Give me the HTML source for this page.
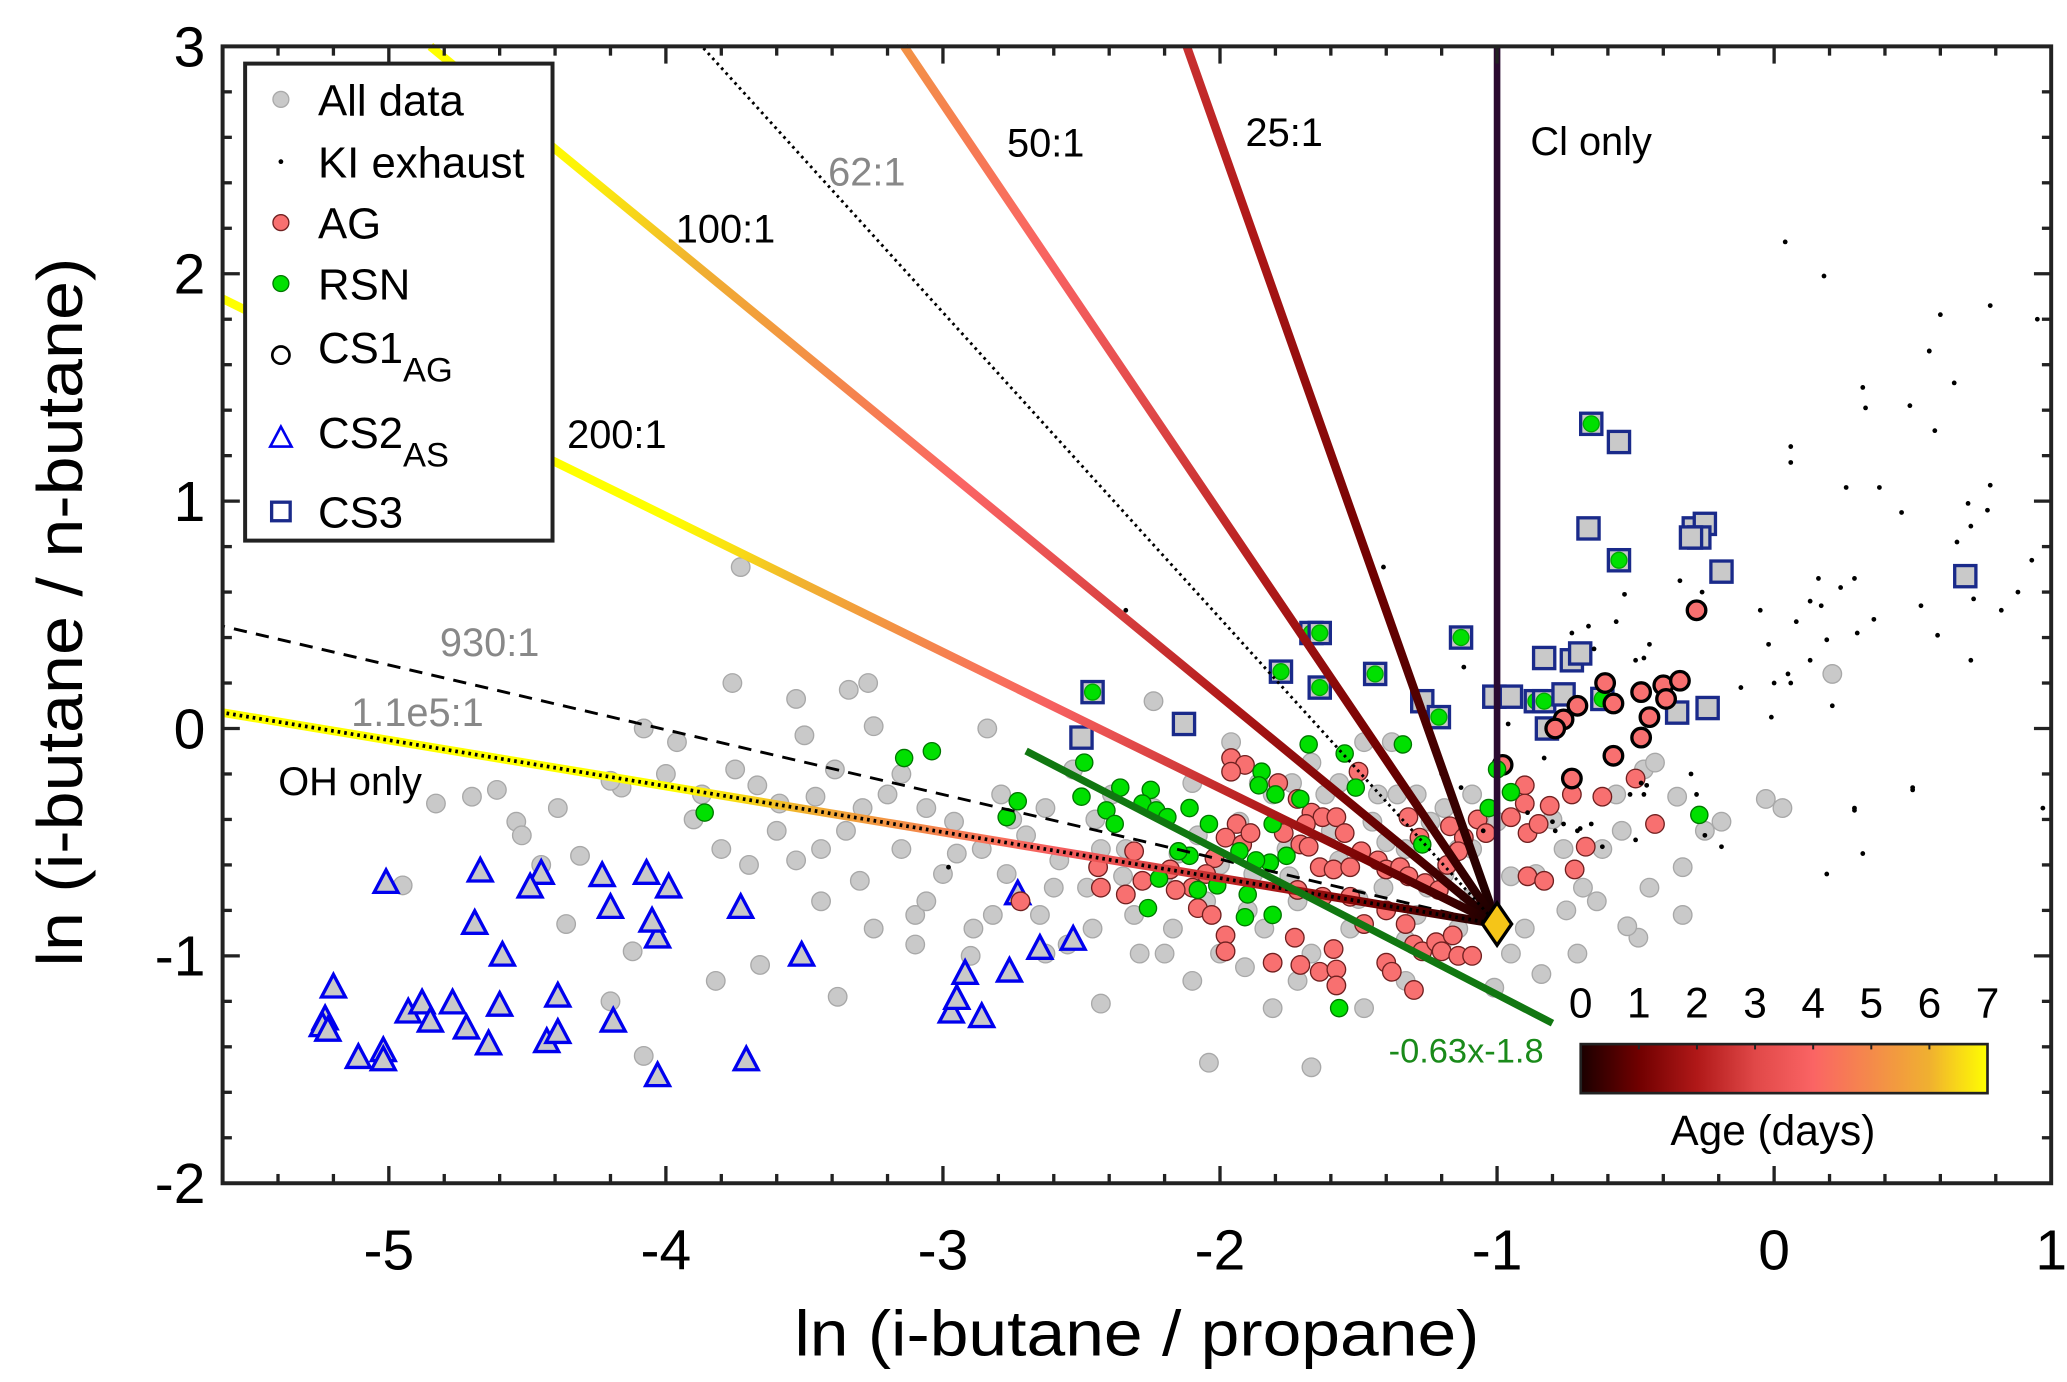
<!DOCTYPE html>
<html><head><meta charset="utf-8"><style>
html,body{margin:0;padding:0;background:#fff;}
svg{display:block;font-family:"Liberation Sans",Arial,sans-serif;}
</style></head><body>
<svg id="chart" width="2067" height="1382" viewBox="0 0 1560 1043" preserveAspectRatio="none" xmlns="http://www.w3.org/2000/svg">
<defs id="defs"></defs>
<g id="points"></g>
<g id="lines"></g>
<g id="axes"></g>
<g id="labels">
<text x="625" y="140" font-size="30" fill="#888">62:1</text>
<text x="760" y="118" font-size="30">50:1</text>
<text x="940" y="110" font-size="30">25:1</text>
<text x="1155" y="117" font-size="30">Cl only</text>
<text x="510" y="183" font-size="30">100:1</text>
<text x="428" y="338" font-size="30">200:1</text>
<text x="332" y="495" font-size="30" fill="#888">930:1</text>
<text x="265" y="548" font-size="30" fill="#888">1.1e5:1</text>
<text x="210" y="600" font-size="30">OH only</text>
<text x="1048" y="802" font-size="26" fill="#1a8a1a">-0.63x-1.8</text>
</g>
<g id="colorbar"></g>
<g id="legend"></g>
<text x="858" y="1023" font-size="48" text-anchor="middle" textLength="517" lengthAdjust="spacingAndGlyphs">ln (i-butane / propane)</text>
<text transform="translate(62,462) rotate(-90)" font-size="48" text-anchor="middle" textLength="535" lengthAdjust="spacingAndGlyphs">ln (i-butane / n-butane)</text>
</svg>
<script>
const xTicks=[-5,-4,-3,-2,-1,0,1];
const yTicks=[-2,-1,0,1,2,3];
const ageTicks=[0,1,2,3,4,5,6,7];
const origin=[-1,-0.86];
const lineNames=['ratio-25-1','ratio-50-1','ratio-100-1','ratio-200-1','oh-only'];
const lineEndX=[-2.12,-3.14,-4.85,-5.6,-5.6];
const lineEndY=[3,3,3,1.89,0.07];
const lineEndAge=[2.5,5.2,8,11,11];
const fitSlope=-0.63, fitIntercept=-1.8, fitRange=[-2.7,-0.8];
const allData=[[-3.73,0.71],[0.21,0.24],[-0.03,-0.31],[0.03,-0.35],[-0.33,-0.61],[-0.33,-0.82],[-0.49,-0.92],[-0.53,-0.87],[-0.19,-0.41],[-1.67,-1.49],[-2.04,-1.47],[-2.43,-1.21],[-0.84,-1.08],[-1.01,-1.14],
[-4.83,-0.33],[-4.95,-0.69],[-4.61,-0.27],[-4.54,-0.41],[-4.52,-0.47],[-4.36,-0.86],[-4.31,-0.56],[-4.16,-0.26],[-4.08,0.0],[-4.12,-0.98],[-4.08,-1.44],[-3.82,-1.11],[-3.76,0.2],[-3.75,-0.18],[-3.67,-0.25],[-3.66,-1.04],[-3.59,-0.33],[-3.53,0.13],[-3.5,-0.03],[-3.46,-0.3],[-3.44,-0.53],[-3.39,-0.18],[-3.38,-1.18],[-3.34,0.17],[-3.27,0.2],[-3.25,0.01],[-3.29,-0.35],[-3.3,-0.67],[-3.2,-0.29],[-3.15,-0.53],[-3.1,-0.82],[-3.06,-0.35],[-3.0,-0.64],[-2.96,-0.41],[-2.89,-0.88],[-2.84,0.0],[-2.86,-0.53],[-2.79,-0.29],[-2.77,-0.64],[-2.7,-0.47],[-2.63,-0.35],[-2.65,-0.82],[-2.58,-0.58],[-2.53,-0.18],[-2.48,-0.7],[-2.46,-0.88],[-2.39,-0.29],[-2.34,-0.53],[-2.31,-0.82],[-2.24,0.12],[-2.24,-0.35],[-2.2,-0.64],[-2.17,-0.88],[-2.1,-0.24],[-2.08,-0.47],[-2.05,-0.76],[-2.0,-0.99],[-1.96,-0.06],[-1.93,-0.41],[-1.88,-0.64],[-1.84,-0.88],[-1.81,-0.29],[-1.76,-0.53],[-1.72,-0.76],[-1.67,-0.99],[-1.62,-0.29],[-1.57,-0.58],[-1.53,-0.88],[-1.48,-0.06],[-1.45,-0.41],[-1.41,-0.7],[-1.36,-0.29],[-1.33,-0.53],[-1.29,-0.82],[-1.24,-0.41],[-1.19,-0.64],[-1.14,-0.88],[-1.09,-0.53],[-1.05,-0.82],[-0.95,-0.99],[-0.9,-0.88],[-0.86,-0.64],[-0.76,-0.53],[-0.69,-0.7],[-0.62,-0.53],[-0.57,-0.29],[-0.47,-0.18],[-0.43,-0.15],[-0.64,-0.76],[-0.71,-0.99],
[-4.39,-0.35],[-4.2,-0.23],[-3.96,-0.06],[-3.87,-0.29],[-3.8,-0.53],[-3.53,-0.58],[-3.44,-0.76],[-3.25,-0.88],[-3.06,-0.76],[-2.82,-0.82],[-2.63,-0.99],[-2.43,-0.53],[-2.29,-0.99],[-2.1,-1.11],[-1.91,-1.05],[-1.86,-0.24],[-1.74,-0.24],[-1.67,-0.15],[-1.57,-0.24],[-1.43,-0.29],[-1.38,-0.06],[-1.29,-0.29],[-1.19,-0.35],[-1.09,-0.29],[-1.0,-0.41],[-1.14,-0.53],[-1.33,-0.93],[-1.72,-1.11],[-1.81,-1.23],[-1.48,-1.23],[-1.33,-1.11],[-2.2,-0.99],
[-3.6,-0.45],[-3.9,-0.4],[-4.0,-0.2],[-3.7,-0.6],[-3.35,-0.45],[-3.15,-0.2],[-2.95,-0.55],[-2.75,-0.4],[-2.6,-0.7],[-2.45,-0.4],[-2.35,-0.65],[-2.15,-0.55],[-2.0,-0.6],[-1.9,-0.8],[-1.75,-0.65],[-1.6,-0.45],[-1.5,-0.75],[-1.4,-0.5],[-1.25,-0.7],[-1.1,-0.75],[-1.2,-0.95],[-0.95,-0.65],[-0.8,-0.4],[-0.75,-0.8],[-0.55,-0.45],[-0.35,-0.3],[-0.25,-0.45],[-0.45,-0.7],[-2.55,-0.95],[-2.9,-1.0],[-3.1,-0.95],[-4.2,-1.2],[-4.7,-0.3],[-4.45,-0.6]];
const kiExhaust=[[0.32,1.5],[0.33,1.41],[0.49,1.42],[0.65,1.52],[0.58,1.31],[0.56,1.66],[0.06,1.24],[0.06,1.17],[0.26,1.06],[0.38,1.06],[0.46,0.95],[0.78,1.07],[0.7,0.99],[0.77,0.96],[0.71,0.89],[0.66,0.82],[0.93,0.74],[0.16,0.66],[0.29,0.66],[0.24,0.62],[0.13,0.56],[0.17,0.54],[-0.05,0.52],[0.08,0.47],[0.36,0.48],[0.19,0.39],[0.3,0.42],[0.53,0.54],[0.72,0.57],[0.82,0.52],[0.88,0.6],[0.59,0.41],[-0.02,0.37],[0.13,0.3],[0.71,0.3],[0.05,0.24],[0.0,0.2],[0.06,0.2],[-0.12,0.18],[0.21,0.1],[-0.01,0.05],[0.5,-0.26],[0.29,-0.35],[0.97,-0.35],[-0.34,0.65],[-0.26,0.6],[-0.54,0.59],[-0.57,0.47],[-0.67,0.45],[-0.73,0.42],[-0.65,0.35],[-0.45,0.37],[-0.5,0.3],[-0.47,0.31],[-1.12,0.27],[-0.96,0.02],[-0.83,-0.13],[-1.13,-0.26],[-0.48,-0.24],[-0.46,-0.25],[-0.52,-0.29],[-0.47,-0.29],[-0.28,-0.29],[-0.3,-0.2],[-0.25,-0.47],[-0.19,-0.52],[-0.5,-0.49],[-0.62,-0.52],[-0.8,-0.41],[-0.76,-0.42],[-0.79,-0.45],[-0.71,-0.45],[-0.7,-0.44],[-0.66,-0.42],[-0.89,-0.37],[0.04,2.14],[0.18,1.99],[0.6,1.82],[0.78,1.86],[0.95,1.8],[0.56,1.66],[-1.41,0.71],[-2.34,0.52],[0.29,-0.36],[0.5,-0.27],[0.19,-0.64],[0.32,-0.55],[-2.98,-0.61],[-1.2,-0.2],[-1.05,-0.45]];
const agPoints=[[-1.96,-0.13],[-1.91,-0.16],[-1.96,-0.19],[-1.79,-0.24],[-1.72,-0.31],[-1.67,-0.37],[-1.63,-0.39],[-1.58,-0.39],[-1.55,-0.46],[-1.69,-0.42],[-1.77,-0.46],[-1.71,-0.51],[-1.68,-0.52],[-1.64,-0.61],[-1.59,-0.62],[-1.53,-0.61],[-1.49,-0.54],[-1.43,-0.58],[-1.4,-0.62],[-1.35,-0.61],[-1.32,-0.65],[-1.26,-0.68],[-1.21,-0.71],[-1.18,-0.6],[-1.17,-0.43],[-1.12,-0.48],[-1.07,-0.4],[-1.04,-0.46],[-1.14,-0.54],[-1.32,-0.39],[-1.28,-0.48],[-1.5,-0.19],[-1.94,-0.42],[-1.98,-0.48],[-1.92,-0.51],[-1.89,-0.46],[-2.02,-0.57],[-2.05,-0.64],[-2.1,-0.7],[-2.16,-0.71],[-2.18,-0.62],[-2.28,-0.67],[-2.34,-0.73],[-2.31,-0.54],[-2.44,-0.61],[-2.43,-0.7],[-2.72,-0.76],[-2.08,-0.79],[-2.03,-0.82],[-1.98,-0.91],[-1.98,-0.98],[-1.81,-1.03],[-1.73,-0.92],[-1.71,-1.04],[-1.64,-1.07],[-1.59,-0.97],[-1.58,-1.06],[-1.58,-1.13],[-1.4,-1.03],[-1.38,-1.07],[-1.3,-1.15],[-1.48,-0.86],[-1.33,-0.86],[-1.3,-0.95],[-1.27,-0.98],[-1.22,-0.94],[-1.2,-0.98],[-1.16,-0.91],[-1.14,-1.0],[-1.09,-1.0],[-1.4,-0.8],[-1.53,-0.74],[-1.63,-0.74],[-1.72,-0.71],[-0.9,-0.25],[-0.9,-0.33],[-0.95,-0.39],[-0.89,-0.46],[-0.85,-0.42],[-0.81,-0.34],[-0.89,-0.65],[-0.73,-0.29],[-0.68,-0.52],[-0.62,-0.3],[-0.5,-0.22],[-0.43,-0.42],[-0.72,-0.62],[-0.83,-0.67]];
const rsnPoints=[[-3.14,-0.13],[-3.04,-0.1],[-2.49,-0.15],[-2.36,-0.26],[-2.25,-0.27],[-2.28,-0.33],[-2.23,-0.36],[-2.19,-0.39],[-2.41,-0.36],[-2.38,-0.42],[-2.5,-0.3],[-2.73,-0.32],[-2.77,-0.39],[-2.11,-0.35],[-2.04,-0.42],[-1.85,-0.19],[-1.86,-0.25],[-1.8,-0.29],[-1.71,-0.31],[-1.68,-0.07],[-1.55,-0.11],[-1.51,-0.26],[-1.34,-0.07],[-1.27,-0.51],[-1.03,-0.35],[-1.81,-0.42],[-1.76,-0.56],[-1.82,-0.59],[-1.93,-0.54],[-1.87,-0.58],[-1.9,-0.73],[-1.81,-0.82],[-1.91,-0.83],[-2.08,-0.71],[-2.22,-0.66],[-2.01,-0.69],[-2.26,-0.79],[-2.11,-0.56],[-2.15,-0.54],[-1.57,-1.23],[-3.86,-0.37],[-0.27,-0.38],[-1.0,-0.18],[-0.95,-0.28]];
const cs1Points=[[-0.61,0.2],[-0.58,0.11],[-0.48,0.16],[-0.4,0.19],[-0.34,0.21],[-0.45,0.05],[-0.48,-0.04],[-0.58,-0.12],[-0.73,-0.22],[-0.98,-0.16],[-0.71,0.1],[-0.76,0.04],[-0.79,0.0],[-0.28,0.52],[-0.39,0.13]];
const cs2Points=[[-5.01,-0.68],[-5.2,-1.14],[-5.23,-1.28],[-5.24,-1.31],[-5.22,-1.33],[-5.11,-1.45],[-5.02,-1.42],[-5.02,-1.46],[-4.93,-1.25],[-4.88,-1.21],[-4.85,-1.29],[-4.77,-1.21],[-4.72,-1.32],[-4.69,-0.86],[-4.67,-0.63],[-4.59,-1.0],[-4.64,-1.39],[-4.6,-1.22],[-4.43,-1.38],[-4.39,-1.34],[-4.39,-1.18],[-4.45,-0.64],[-4.49,-0.7],[-4.23,-0.65],[-4.2,-0.79],[-4.19,-1.29],[-4.03,-0.92],[-4.03,-1.53],[-4.05,-0.85],[-4.07,-0.64],[-3.99,-0.7],[-3.73,-0.79],[-3.71,-1.46],[-3.51,-1.0],[-2.97,-1.25],[-2.95,-1.19],[-2.92,-1.08],[-2.86,-1.27],[-2.76,-1.07],[-2.65,-0.97],[-2.53,-0.93],[-2.73,-0.73]];
const cs3Points=[[-0.66,1.34],[-0.56,1.26],[-0.67,0.88],[-0.56,0.74],[-0.29,0.88],[-0.25,0.9],[-0.27,0.84],[-0.3,0.84],[-0.19,0.69],[0.69,0.67],[-1.13,0.4],[-1.44,0.24],[-1.78,0.25],[-1.67,0.42],[-1.64,0.42],[-1.64,0.18],[-2.46,0.16],[-2.13,0.02],[-2.5,-0.04],[-1.27,0.12],[-1.21,0.05],[-1.01,0.14],[-0.95,0.14],[-0.83,0.31],[-0.73,0.3],[-0.7,0.33],[-0.86,0.12],[-0.83,0.12],[-0.76,0.15],[-0.82,0.0],[-0.62,0.13],[-0.35,0.07],[-0.24,0.09]];
const cs3Rsn=[1,0,0,1,0,0,0,0,0,0,1,1,1,1,1,1,1,0,0,0,1,0,0,0,0,0,1,1,0,0,1,0,0];

const NS='http://www.w3.org/2000/svg';
const X=v=>168+(v+5.6)*209.1;
const Y=v=>35+(3-v)*171.6;
function mk(tag,attrs,parent){const e=document.createElementNS(NS,tag);for(const k in attrs)e.setAttribute(k,attrs[k]);parent.appendChild(e);return e;}
const cmapStops=[[0,'#1a0000'],[1,'#700000'],[2,'#b01818'],[3,'#e04848'],[4,'#fa6464'],[5,'#f48a4a'],[6,'#f0b030'],[7,'#ffff00']];
function cmap(a){a=Math.max(0,Math.min(7,a));const i=Math.min(6,Math.floor(a));const t=a-i;const c1=cmapStops[i][1],c2=cmapStops[i+1][1];
const p=s=>[1,3,5].map(j=>parseInt(s.substr(j,2),16));const A=p(c1),B=p(c2);return 'rgb('+A.map((v,k)=>Math.round(v+(B[k]-v)*t)).join(',')+')';}
const defs=document.getElementById('defs');
const P=document.getElementById('points');
const L=document.getElementById('lines');
const AX=document.getElementById('axes');

allData.forEach(d=>{const c=mk('circle',{cx:X(d[0]),cy:Y(d[1]),r:7,fill:'#c9c9c9',stroke:'#a8a8a8','stroke-width':1},P);

});
cs2Points.forEach(d=>{const x=X(d[0]),y=Y(d[1]);const e=mk('polygon',{points:`${x},${y-10} ${x-9},${y+7} ${x+9},${y+7}`,fill:'#c9c9c9',stroke:'#0000ee','stroke-width':2.5},P);

});
cs3Points.forEach((d,i)=>{const x=X(d[0]),y=Y(d[1]);const e=mk('rect',{x:x-8,y:y-8,width:16,height:16,fill:'#c9c9c9',stroke:'#1a2a8a','stroke-width':2.5},P);


if(cs3Rsn[i]){mk('circle',{cx:x,cy:y,r:6,fill:'#00e000',stroke:'#0a0','stroke-width':1},P);}});
agPoints.forEach(d=>{const c=mk('circle',{cx:X(d[0]),cy:Y(d[1]),r:7,fill:'#f87070',stroke:'#702020','stroke-width':1},P);

});
cs1Points.forEach(d=>{const c=mk('circle',{cx:X(d[0]),cy:Y(d[1]),r:7,fill:'#f87070',stroke:'#000','stroke-width':2.5},P);

});
rsnPoints.forEach(d=>{const c=mk('circle',{cx:X(d[0]),cy:Y(d[1]),r:6.5,fill:'#00e000',stroke:'#007700','stroke-width':1},P);

});
kiExhaust.forEach(d=>{const c=mk('circle',{cx:X(d[0]),cy:Y(d[1]),r:1.8,fill:'#000'},P);

});

const ox=X(origin[0]),oy=Y(origin[1]);
const d930=mk('line',{x1:ox,y1:oy,x2:X(-5.6),y2:Y(0.45),stroke:'#000','stroke-width':2.2,'stroke-dasharray':'10 7'},L);


lineNames.forEach((n,i)=>{const ex=X(lineEndX[i]),ey=Y(lineEndY[i]);const g=mk('linearGradient',{id:'g'+i,gradientUnits:'userSpaceOnUse',x1:ox,y1:oy,x2:ex,y2:ey},defs);
for(let k=0;k<=20;k++){const t=k/20;mk('stop',{offset:t,'stop-color':cmap(t*lineEndAge[i])},g);}
const e=mk('line',{x1:ox,y1:oy,x2:ex,y2:ey,stroke:'url(#g'+i+')','stroke-width':6.5},L);

});
const d62=mk('line',{x1:ox,y1:oy,x2:X(-3.87),y2:Y(3),stroke:'#000','stroke-width':2.2,'stroke-dasharray':'2 3'},L);


const d11=mk('line',{x1:ox,y1:oy,x2:X(-5.6),y2:Y(0.07),stroke:'#000','stroke-width':2.8,'stroke-dasharray':'2 3'},L);


const cl=mk('line',{x1:ox,y1:oy,x2:ox,y2:Y(3),stroke:'#2a0a30','stroke-width':5},L);


const fit=mk('line',{x1:X(fitRange[0]),y1:Y(fitSlope*fitRange[0]+fitIntercept),x2:X(fitRange[1]),y2:Y(fitSlope*fitRange[1]+fitIntercept),stroke:'#117711','stroke-width':5.5},L);


const dia=mk('polygon',{points:`${ox},${oy-16} ${ox+11},${oy} ${ox},${oy+16} ${ox-11},${oy}`,fill:'#f5c518',stroke:'#000','stroke-width':2.5},L);



const fr=mk('rect',{x:X(-5.6),y:Y(3),width:X(1)-X(-5.6),height:Y(-2)-Y(3),fill:'none',stroke:'#222','stroke-width':3},AX);


for(let v=-5.6;v<=1.001;v+=0.2){const r=Math.round(v*10)/10;const major=Math.abs(r-Math.round(r))<1e-6;const len=major?13:7;
mk('line',{x1:X(r),y1:Y(-2),x2:X(r),y2:Y(-2)-len,stroke:'#222','stroke-width':2.5},AX);
mk('line',{x1:X(r),y1:Y(3),x2:X(r),y2:Y(3)+len,stroke:'#222','stroke-width':2.5},AX);}
for(let v=-2;v<=3.001;v+=0.2){const r=Math.round(v*10)/10;const major=Math.abs(r-Math.round(r))<1e-6;const len=major?13:7;
mk('line',{x1:X(-5.6),y1:Y(r),x2:X(-5.6)+len,y2:Y(r),stroke:'#222','stroke-width':2.5},AX);
mk('line',{x1:X(1),y1:Y(r),x2:X(1)-len,y2:Y(r),stroke:'#222','stroke-width':2.5},AX);}
xTicks.forEach(v=>{const t=mk('text',{x:X(v),y:958,'font-size':43,'text-anchor':'middle'},AX);t.textContent=v;

});
yTicks.forEach(v=>{const t=mk('text',{x:155,y:Y(v)+15,'font-size':43,'text-anchor':'end'},AX);t.textContent=v;

});

const CB=document.getElementById('colorbar');
const cg=mk('linearGradient',{id:'cbg',x1:0,y1:0,x2:1,y2:0},defs);
for(let k=0;k<=28;k++){mk('stop',{offset:k/28,'stop-color':cmap(k/4)},cg);}
const cbx0=1193,cbx1=1500;
const cbr=mk('rect',{x:cbx0,y:788,width:cbx1-cbx0,height:37,fill:'url(#cbg)',stroke:'#222','stroke-width':2},CB);


ageTicks.forEach(a=>{const x=cbx0+(cbx1-cbx0)*a/7;mk('line',{x1:x,y1:788,x2:x,y2:792,stroke:'#222','stroke-width':1.5},CB);
const t=mk('text',{x:x,y:768,'font-size':32,'text-anchor':'middle'},CB);t.textContent=a;

});
const ct=mk('text',{x:1338,y:864,'font-size':32,'text-anchor':'middle'},CB);ct.textContent='Age (days)';



const LG=document.getElementById('legend');
const lb=mk('rect',{x:185,y:48,width:232,height:360,fill:'#fff',stroke:'#222','stroke-width':3},LG);


const rows=[['All data',75],['KI exhaust',122],['AG',168],['RSN',214],['CS1',262,'AG'],['CS2',326,'AS'],['CS3',386]];
rows.forEach((r,i)=>{const y=r[1];const g=mk('g',{},LG);


if(i==0)mk('circle',{cx:212,cy:y,r:6,fill:'#c9c9c9',stroke:'#aaa'},g);
if(i==1)mk('circle',{cx:212,cy:y,r:1.8,fill:'#000'},g);
if(i==2)mk('circle',{cx:212,cy:y,r:6,fill:'#f87070',stroke:'#702020'},g);
if(i==3)mk('circle',{cx:212,cy:y,r:6,fill:'#00e000',stroke:'#070'},g);
if(i==4)mk('circle',{cx:212,cy:y+6,r:6.5,fill:'none',stroke:'#000','stroke-width':2},g);
if(i==5)mk('polygon',{points:`212,${y-4} 204,${y+11} 220,${y+11}`,fill:'none',stroke:'#0000ee','stroke-width':2},g);
if(i==6)mk('rect',{x:205,y:y-7,width:14,height:14,fill:'none',stroke:'#1a2a8a','stroke-width':2.5},g);
const t=mk('text',{x:240,y:y+12,'font-size':33},g);t.textContent=r[0];
if(r[2]){const s=mk('tspan',{dy:14,'font-size':26},t);s.textContent=r[2];}});
</script>
</body></html>
